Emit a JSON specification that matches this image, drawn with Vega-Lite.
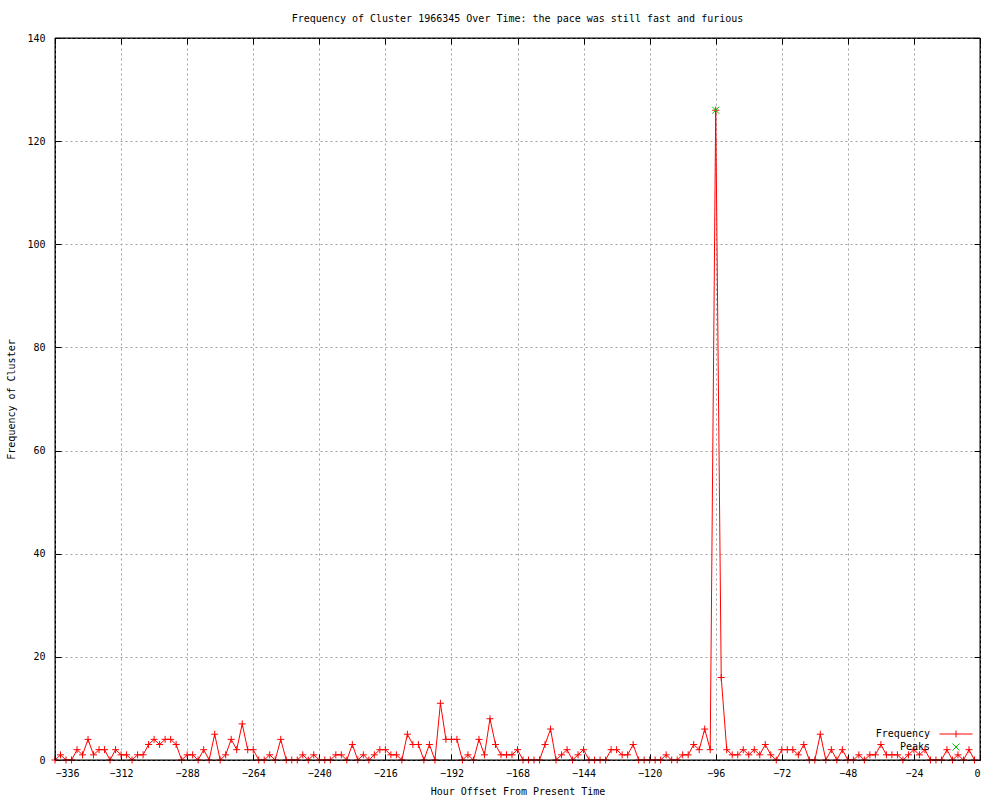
{
  "$schema": "https://vega.github.io/schema/vega-lite/v6.json",
  "autosize": {"type": "none"},
  "width": 925,
  "height": 722,
  "padding": {"left": 55, "top": 38, "right": 20, "bottom": 40},
  "background": "white",
  "config": {
    "font": "DejaVu Sans Mono",
    "view": {"stroke": "black", "strokeWidth": 1},
    "axis": {
      "domain": false,
      "tickColor": "black",
      "tickSize": -6,
      "tickWidth": 1,
      "labelFont": "DejaVu Sans Mono",
      "labelFontSize": 10,
      "labelColor": "black",
      "titleFont": "DejaVu Sans Mono",
      "titleFontSize": 10,
      "titleFontWeight": "normal",
      "titleColor": "black",
      "gridColor": "#a0a0a0",
      "gridDash": [2, 3],
      "gridOpacity": 1,
      "gridWidth": 1
    }
  },
  "title": {
    "text": "Frequency of Cluster 1966345 Over Time: the pace was still fast and furious",
    "font": "DejaVu Sans Mono",
    "fontSize": 10,
    "fontWeight": "normal",
    "color": "black",
    "anchor": "middle",
    "baseline": "bottom",
    "offset": -1
  },
  "datasets": {
    "freq": [
      {"h": -336, "v": 0}, {"h": -334, "v": 1}, {"h": -332, "v": 0}, {"h": -330, "v": 0},
      {"h": -328, "v": 2}, {"h": -326, "v": 1}, {"h": -324, "v": 4}, {"h": -322, "v": 1},
      {"h": -320, "v": 2}, {"h": -318, "v": 2}, {"h": -316, "v": 0}, {"h": -314, "v": 2},
      {"h": -312, "v": 1}, {"h": -310, "v": 1}, {"h": -308, "v": 0}, {"h": -306, "v": 1},
      {"h": -304, "v": 1}, {"h": -302, "v": 3}, {"h": -300, "v": 4}, {"h": -298, "v": 3},
      {"h": -296, "v": 4}, {"h": -294, "v": 4}, {"h": -292, "v": 3}, {"h": -290, "v": 0},
      {"h": -288, "v": 1}, {"h": -286, "v": 1}, {"h": -284, "v": 0}, {"h": -282, "v": 2},
      {"h": -280, "v": 0}, {"h": -278, "v": 5}, {"h": -276, "v": 0}, {"h": -274, "v": 1},
      {"h": -272, "v": 4}, {"h": -270, "v": 2}, {"h": -268, "v": 7}, {"h": -266, "v": 2},
      {"h": -264, "v": 2}, {"h": -262, "v": 0}, {"h": -260, "v": 0}, {"h": -258, "v": 1},
      {"h": -256, "v": 0}, {"h": -254, "v": 4}, {"h": -252, "v": 0}, {"h": -250, "v": 0},
      {"h": -248, "v": 0}, {"h": -246, "v": 1}, {"h": -244, "v": 0}, {"h": -242, "v": 1},
      {"h": -240, "v": 0}, {"h": -238, "v": 0}, {"h": -236, "v": 0}, {"h": -234, "v": 1},
      {"h": -232, "v": 1}, {"h": -230, "v": 0}, {"h": -228, "v": 3}, {"h": -226, "v": 0},
      {"h": -224, "v": 1}, {"h": -222, "v": 0}, {"h": -220, "v": 1}, {"h": -218, "v": 2},
      {"h": -216, "v": 2}, {"h": -214, "v": 1}, {"h": -212, "v": 1}, {"h": -210, "v": 0},
      {"h": -208, "v": 5}, {"h": -206, "v": 3}, {"h": -204, "v": 3}, {"h": -202, "v": 0},
      {"h": -200, "v": 3}, {"h": -198, "v": 0}, {"h": -196, "v": 11}, {"h": -194, "v": 4},
      {"h": -192, "v": 4}, {"h": -190, "v": 4}, {"h": -188, "v": 0}, {"h": -186, "v": 1},
      {"h": -184, "v": 0}, {"h": -182, "v": 4}, {"h": -180, "v": 1}, {"h": -178, "v": 8},
      {"h": -176, "v": 3}, {"h": -174, "v": 1}, {"h": -172, "v": 1}, {"h": -170, "v": 1},
      {"h": -168, "v": 2}, {"h": -166, "v": 0}, {"h": -164, "v": 0}, {"h": -162, "v": 0},
      {"h": -160, "v": 0}, {"h": -158, "v": 3}, {"h": -156, "v": 6}, {"h": -154, "v": 0},
      {"h": -152, "v": 1}, {"h": -150, "v": 2}, {"h": -148, "v": 0}, {"h": -146, "v": 1},
      {"h": -144, "v": 2}, {"h": -142, "v": 0}, {"h": -140, "v": 0}, {"h": -138, "v": 0},
      {"h": -136, "v": 0}, {"h": -134, "v": 2}, {"h": -132, "v": 2}, {"h": -130, "v": 1},
      {"h": -128, "v": 1}, {"h": -126, "v": 3}, {"h": -124, "v": 0}, {"h": -122, "v": 0},
      {"h": -120, "v": 0}, {"h": -118, "v": 0}, {"h": -116, "v": 0}, {"h": -114, "v": 1},
      {"h": -112, "v": 0}, {"h": -110, "v": 0}, {"h": -108, "v": 1}, {"h": -106, "v": 1},
      {"h": -104, "v": 3}, {"h": -102, "v": 2}, {"h": -100, "v": 6}, {"h": -98, "v": 2},
      {"h": -96, "v": 126}, {"h": -94, "v": 16}, {"h": -92, "v": 2}, {"h": -90, "v": 1},
      {"h": -88, "v": 1}, {"h": -86, "v": 2}, {"h": -84, "v": 1}, {"h": -82, "v": 2},
      {"h": -80, "v": 1}, {"h": -78, "v": 3}, {"h": -76, "v": 1}, {"h": -74, "v": 0},
      {"h": -72, "v": 2}, {"h": -70, "v": 2}, {"h": -68, "v": 2}, {"h": -66, "v": 1},
      {"h": -64, "v": 3}, {"h": -62, "v": 0}, {"h": -60, "v": 0}, {"h": -58, "v": 5},
      {"h": -56, "v": 0}, {"h": -54, "v": 2}, {"h": -52, "v": 0}, {"h": -50, "v": 2},
      {"h": -48, "v": 0}, {"h": -46, "v": 0}, {"h": -44, "v": 1}, {"h": -42, "v": 0},
      {"h": -40, "v": 1}, {"h": -38, "v": 1}, {"h": -36, "v": 3}, {"h": -34, "v": 1},
      {"h": -32, "v": 1}, {"h": -30, "v": 1}, {"h": -28, "v": 0}, {"h": -26, "v": 1},
      {"h": -24, "v": 2}, {"h": -22, "v": 1}, {"h": -20, "v": 2}, {"h": -18, "v": 0},
      {"h": -16, "v": 0}, {"h": -14, "v": 0}, {"h": -12, "v": 2}, {"h": -10, "v": 0},
      {"h": -8, "v": 1}, {"h": -6, "v": 0}, {"h": -4, "v": 2}, {"h": -2, "v": 0}
    ],
    "peaks": [
      {"h": -96, "v": 126}
    ],
    "frame": [
      {"x0": -336, "x1": 0, "y0": 0, "y1": 140}
    ]
  },
  "layer": [
    {
      "data": {"name": "freq"},
      "mark": {"type": "line", "strokeWidth": 1, "clip": true},
      "encoding": {
        "x": {
          "field": "h", "type": "quantitative",
          "scale": {"domain": [-336, 0], "nice": false, "zero": false},
          "axis": {
            "orient": "bottom",
            "values": [-336, -312, -288, -264, -240, -216, -192, -168, -144, -120, -96, -72, -48, -24, 0],
            "grid": true,
            "labelPadding": 14,
            "title": "Hour Offset From Present Time",
            "titlePadding": 8
          }
        },
        "y": {
          "field": "v", "type": "quantitative",
          "scale": {"domain": [0, 140], "nice": false},
          "axis": {
            "orient": "left",
            "values": [0, 20, 40, 60, 80, 100, 120, 140],
            "grid": true,
            "labelPadding": 16,
            "title": "Frequency of Cluster",
            "titlePadding": 10
          }
        },
        "color": {
          "datum": "Frequency",
          "type": "nominal",
          "scale": {"domain": ["Frequency", "Peaks"], "range": ["#ff0000", "#00c000"]},
          "legend": {
            "orient": "none",
            "legendX": 896,
            "legendY": 691,
            "title": null,
            "symbolSize": 16,
            "labelAlign": "right",
            "labelOffset": -31,
            "labelFont": "DejaVu Sans Mono",
            "labelFontSize": 10,
            "labelColor": "black",
            "rowPadding": 1,
            "padding": 0,
            "encode": {
              "symbols": {
                "update": {
                  "shape": {"signal": "datum.value === 'Frequency' ? 'M-8.25,0H8.25M0,-1.75V1.75' : 'M-1.75,-1.75L1.75,1.75M-1.75,1.75L1.75,-1.75'"},
                  "size": {"value": 16},
                  "strokeWidth": {"value": 1},
                  "fill": {"value": "transparent"},
                  "stroke": {"signal": "datum.value === 'Frequency' ? '#ff0000' : '#00c000'"},
                  "opacity": {"value": 1}
                }
              }
            }
          }
        }
      }
    },
    {
      "data": {"name": "freq"},
      "mark": {"type": "point", "shape": "M-1,0H1M0,-1V1", "size": 49, "filled": false, "strokeWidth": 1, "opacity": 1},
      "encoding": {
        "x": {"field": "h", "type": "quantitative", "axis": {"orient": "top", "values": [-336, -312, -288, -264, -240, -216, -192, -168, -144, -120, -96, -72, -48, -24, 0], "labels": false, "grid": false, "title": null}},
        "y": {"field": "v", "type": "quantitative", "axis": {"orient": "right", "values": [0, 20, 40, 60, 80, 100, 120, 140], "labels": false, "grid": false, "title": null}},
        "color": {"datum": "Frequency", "type": "nominal"}
      }
    },
    {
      "data": {"name": "peaks"},
      "mark": {"type": "point", "shape": "M-1,-1L1,1M-1,1L1,-1", "size": 49, "filled": false, "strokeWidth": 1, "opacity": 1},
      "encoding": {
        "x": {"field": "h", "type": "quantitative", "axis": null},
        "y": {"field": "v", "type": "quantitative", "axis": null},
        "color": {"datum": "Peaks", "type": "nominal"}
      }
    },
    {
      "data": {"name": "frame"},
      "mark": {"type": "rect", "filled": false, "stroke": "black", "strokeWidth": 1, "fill": null},
      "encoding": {
        "x": {"field": "x0", "type": "quantitative", "axis": null},
        "x2": {"field": "x1"},
        "y": {"field": "y0", "type": "quantitative", "axis": null},
        "y2": {"field": "y1"}
      }
    }
  ]
}
